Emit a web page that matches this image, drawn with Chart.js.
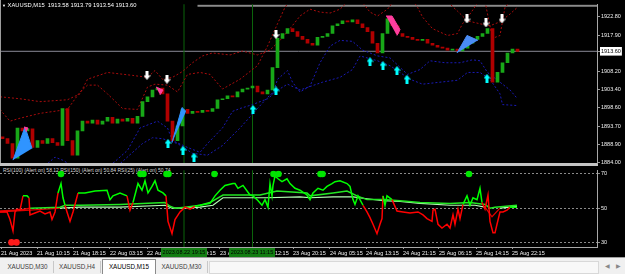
<!DOCTYPE html>
<html>
<head>
<meta charset="utf-8">
<title>XAUUSD,M15</title>
<script src="https://cdn.jsdelivr.net/npm/chart.js@4.4.1/dist/chart.umd.min.js"></script>
<style>
  html, body { margin: 0; padding: 0; width: 625px; height: 274px; overflow: hidden; background: #000; font-family: "Liberation Sans", Arial, sans-serif; }
  canvas { position: absolute; left: 0; }
  #priceChart { top: 0; z-index: 3; }
  #rsiChart { top: 166px; z-index: 2; }
  .lbl { position: absolute; white-space: nowrap; }
  #symbol { left: 2px; top: 2px; color: #fff; font-size: 5.8px; z-index: 4; }
  #rsiName { left: 3px; top: 167px; color: #d8d8d8; font-size: 5px; z-index: 1; }
  #sep { position: absolute; left: 0; top: 163px; width: 598px; height: 3px; background: #c4c4c4; z-index: 2; }
  #lborder { position: absolute; left: 0; top: 0; width: 1px; height: 163px; background: #9c9c9c; z-index: 4; }
  #tabs { position: absolute; left: 0; top: 257px; width: 625px; height: 17px; background: #f0f0f0; border-top: 1px solid #a0a0a0; box-sizing: border-box; }
  .tab { position: absolute; top: 3px; height: 12px; line-height: 12px; font-size: 6.3px; color: #404040; text-align: center; border-right: 1px solid #c8c8c8; }
  .tab.on { top: 1px; height: 15px; line-height: 14px; background: #fff; border: 1px solid #8a8a8a; border-bottom: none; color: #000; }
  #scroll { position: absolute; left: 209px; top: 3px; width: 390px; height: 13px; background: #f8f8f8; border: 1px solid #d8d8d8; box-sizing: border-box; }
  .arr { position: absolute; top: 4px; font-size: 6px; color: #888; }
</style>
</head>
<body>
<div id="lborder"></div>
<div id="symbol" class="lbl"><span style="font-size:4px">&#9660;</span> XAUUSD,M15&nbsp; 1913.58 1913.79 1913.54 1913.60</div>
<canvas id="priceChart" width="625" height="170"></canvas>
<div id="sep"></div>
<div id="rsiName" class="lbl">RSI(100) (Alert on) 58.12 RSI(150) (Alert on) 50.84 RSI(25) (Alert on) 50.74</div>
<canvas id="rsiChart" width="625" height="91"></canvas>
<div id="tabs">
  <div class="tab" style="left:2px;width:51px">XAUUSD,M30</div>
  <div class="tab" style="left:54px;width:46px">XAUUSD,H4</div>
  <div class="tab on" style="left:102px;width:52px">XAUUSD,M15</div>
  <div class="tab" style="left:156px;width:51px">XAUUSD,M30</div>
  <div id="scroll"></div>
  <span class="arr" style="left:605px">&#9664;</span>
  <span class="arr" style="left:616px">&#9654;</span>
</div>
<script>
// candle closes, one per bar (bar index 0..103)
var firstOpen = 1890.9;
var closes = [
  1890.38, 1889.09, 1885.21, 1893.23, 1892.45, 1892.97, 1888.06, 1889.87, 1889.09, 1890.38,
  1889.35, 1888.57, 1898.40, 1889.87, 1885.99, 1892.45, 1895.04, 1894.52, 1895.30, 1894.26,
  1895.04, 1896.08, 1894.52, 1895.56, 1895.04, 1895.82, 1894.52, 1896.33, 1900.22, 1901.51,
  1903.32, 1903.84, 1902.29, 1895.04, 1889.87, 1893.75, 1898.15, 1897.11, 1897.63, 1897.37,
  1897.89, 1897.63, 1898.40, 1900.73, 1900.99, 1901.77, 1901.51, 1902.80, 1903.57, 1903.84,
  1904.35, 1902.80, 1902.29, 1903.32, 1909.27, 1917.03, 1918.32, 1919.62, 1918.84, 1917.55,
  1916.77, 1915.73, 1915.22, 1917.29, 1917.55, 1918.32, 1920.39, 1920.91, 1921.69, 1921.43,
  1921.95, 1920.91, 1919.88, 1918.84, 1915.73, 1913.15, 1918.32, 1922.20, 1920.39, 1918.32,
  1917.55, 1917.29, 1916.77, 1916.51, 1916.77, 1915.73, 1915.22, 1914.70, 1914.44, 1913.93,
  1914.19, 1913.67, 1914.44, 1915.73, 1916.77, 1917.55, 1918.32, 1919.62, 1905.39, 1907.98,
  1910.56, 1913.15, 1914.19, 1913.60
];
var lastPrice = 1913.60;

// envelope bands (bar index / price)
var bandAIdx = [-0.5,3.5,7.5,13,15.5,17,21,26,29,30.5,32,34,36,38,40,42,45.5,48,51,53.5,55.5,57.5,59.5,61.5,63.5,65.5,67.5,69.5,71.5,73.5,75,77,78.5,81.5,83,84,86,89,91,92,93.5,95.5,96.5,98,99.5,100.5,102,103];
var bandA = [1901.51,1900.99,1900.22,1900.73,1902.29,1906.17,1907.98,1907.20,1906.68,1908.49,1906.17,1906.68,1908.23,1910.56,1912.37,1913.15,1912.63,1913.67,1912.63,1913.93,1916.51,1919.62,1922.98,1924.79,1924.02,1923.76,1924.79,1927.38,1927.38,1924.02,1922.98,1924.79,1927.38,1928.15,1925.31,1922.72,1919.62,1917.81,1918.32,1920.91,1923.50,1927.38,1926.86,1917.03,1917.81,1925.31,1927.38,1928.15];
var bandBIdx = [-0.5,1.5,3.5,7.5,13,15.5,17,19,21,24,27,29,30.5,33,35,37,39.5,41.5,44,47.5,51,53,55,56.5,58.5,73,87.5,91,93,95.5,97.5,99.5,101.5,103];
var bandB = [1898.15,1895.04,1895.82,1897.11,1898.15,1902.80,1904.61,1904.61,1902.29,1898.40,1898.15,1904.10,1904.87,1904.61,1902.80,1907.46,1907.98,1907.46,1903.58,1906.17,1909.79,1914.96,1920.91,1925.31,1928.67,1929.97,1928.67,1924.27,1921.69,1920.91,1920.39,1921.43,1923.50,1925.31];
var bandEIdx = [21.5,25,27.5,31,33,34,37,39.5,41,44,46,47.5,50,53,54,55,57,58,59.5,61.5,63.5,65.5,67.5,70,72,75,77.5,81,83.5,85.5,88.5,91.5,94,95.5,97,99.5,101.5,103];
var bandE = [1883.14,1887.28,1893.23,1895.04,1893.23,1889.87,1888.06,1886.76,1889.09,1893.23,1897.63,1898.40,1899.44,1900.99,1902.03,1906.17,1908.49,1905.39,1902.80,1904.35,1910.56,1914.96,1916.51,1916.25,1913.93,1912.37,1911.86,1907.46,1908.75,1911.08,1910.56,1910.56,1911.34,1911.08,1907.98,1905.39,1903.32,1900.99];
var bandFIdx = [8.5,10.5,12,14,18,23,28,30,32,35,38,41,44,47.5,51,53.5,57,59.5,64,67.5,70,71.5,75,77.5,81.5,84,87.5,91,93,95.5,97.5,99.5,100,103];
var bandF = [1883.14,1885.47,1884.69,1883.14,null,1883.14,1889.09,1890.64,1890.38,1889.09,1886.50,1885.99,1888.57,1893.23,1898.40,1902.03,1904.87,1903.32,1905.39,1906.68,1908.75,1912.37,1911.08,1909.79,1906.17,1904.87,1905.39,1905.91,1907.98,1907.98,1906.17,1902.29,1899.44,1899.18];

// signal arrows
var sellIdx = [28.9, 32.9, 54.7, 92.9, 96.7, 99.9];
var sellPrice = [1907.20, 1906.17, 1918.07, 1922.20, 1921.17, 1922.20];
var buyIdx = [33.1, 36.1, 38.3, 50.1, 54.7, 73.5, 76.1, 78.9, 80.9, 96.9];
var buyPrice = [1889.09, 1887.28, 1885.47, 1898.15, 1903.06, 1910.82, 1909.79, 1908.49, 1906.17, 1906.42];

// pattern triangles
var blueLeftIdx = [2.1, 4.5, 5.9];
var blueLeft = [1884.69, 1893.49, 1887.80];
var blueMidIdx = [33.9, 35.9, 36.7];
var blueMid = [1889.35, 1898.66, 1897.63];
var blueRightIdx = [90.9, 92.9, 95.1];
var blueRight = [1913.15, 1917.81, 1916.51];
var pinkAIdx = [30.7, 32.1, 31.5];
var pinkA = [1904.10, 1903.32, 1902.03];
var pinkBIdx = [76.7, 77.9, 79.5, 78.9];
var pinkB = [1922.98, 1922.98, 1919.36, 1917.81];
var pinkCIdx = [4.3, 5.1, 4.7];
var pinkC = [1893.49, 1893.23, 1892.20];

// price axis labels
var priceTicks = [1884.00, 1888.90, 1893.70, 1898.60, 1903.40, 1908.20, 1913.60, 1917.90, 1922.80];

// vertical lines
var vLineIdx = [36.3, 50.0];
var vLineTimes = ['2023.08.22 19:15', '2023.08.23 11:15'];

// time axis
var timeIdx = [-0.3, 6.9, 14.1, 21.5, 28.9, 36.1, 43.5, 50.7, 58.1, 65.5, 72.7, 80.1, 87.3, 94.7, 101.9];
var timeLabels = ['21 Aug 2023', '21 Aug 10:15', '21 Aug 18:15', '22 Aug 03:15', '22 Aug 11:15', '22 Aug 19:15', '23 Aug 04:15', '23 Aug 12:15', '23 Aug 20:15', '24 Aug 05:15', '24 Aug 13:15', '24 Aug 21:15', '25 Aug 06:15', '25 Aug 14:15', '25 Aug 22:15'];

// RSI lines
var fastIdx = [-0.5,0.9,1.5,2.1,2.5,2.9,3.5,4.1,4.9,5.3,5.5,6.5,7.5,8.5,9.5,9.9,10.5,11.1,11.7,12.1,12.5,12.9,13.5,14.1,15.1,16.5,18.5,20.9,21.5,22.1,23.5,24.9,25.5,26.1,27.1,27.9,28.5,29.1,29.9,30.5,31.1,32.1,32.7,33.1,33.9,34.5,35.5,36.5,37.5,38.5,39.5,41.5,42.5,43.5,44.5,46.1,46.5,47.1,48.1,49.5,50.1,50.9,51.9,52.5,53.1,53.5,53.9,54.1,54.5,55.1,55.9,56.9,57.5,58.5,59.5,60.9,61.5,62.1,63.1,64.1,64.9,65.9,66.5,67.5,68.9,69.5,70.1,70.5,71.1,72.1,72.9,73.5,74.1,74.9,75.5,75.9,76.1,76.5,76.9,77.9,78.9,80.1,81.5,83.1,84.1,84.9,85.9,86.1,86.5,87.1,87.9,88.9,89.5,90.1,90.5,91.1,91.5,92.1,92.9,93.5,94.1,94.9,95.5,95.9,96.5,97.1,97.5,98.1,98.5,98.9,99.5,100.1,100.9,101.5,102.9];
var fastRsi = [47.8,47.8,43.4,36.7,47.8,49.4,48.9,57.2,57.2,56.1,46.1,47.2,48.3,46.7,47.8,43.4,47.8,58.9,64.4,56.1,51.7,47.8,42.3,47.8,58.9,58.9,60.0,60.5,55.0,57.2,58.9,57.2,48.9,53.3,64.4,60.5,66.0,58.9,62.7,66.0,60.5,58.9,57.2,42.3,35.1,43.4,47.8,50.6,49.4,51.1,51.7,52.8,57.2,60.5,63.3,64.4,64.4,61.6,63.3,57.7,57.2,55.0,51.7,55.0,50.6,64.4,57.2,63.3,68.8,67.2,65.5,67.2,64.4,61.6,60.5,57.7,55.0,58.9,61.6,60.5,62.7,64.4,65.5,66.0,64.4,62.7,55.0,52.2,57.2,51.7,47.8,44.5,40.6,35.1,40.6,43.9,57.2,51.7,57.2,55.0,48.3,47.8,47.2,47.8,46.1,43.9,42.3,48.9,49.4,40.6,38.4,40.6,38.4,46.1,40.6,49.4,43.9,52.2,57.2,51.7,56.1,55.0,61.6,53.3,49.4,57.7,42.3,35.6,35.6,40.6,47.8,47.8,48.9,50.6,50.6];
var slowAIdx = [-0.5,3.5,5.5,11.5,12.5,15.5,23.5,32.5,33.5,34.5,36.5,39.5,41.5,44.1,51.5,54.9,60.9,61.5,66.1,68.9,70.9,72.9,76.1,79.5,83.5,89.5,93.5,96.5,97.5,98.5,102.9];
var slowA = [48.3,48.9,50.0,50.6,51.7,51.7,52.2,53.3,51.1,50.0,50.6,51.7,53.3,57.7,57.7,60.0,58.9,57.2,58.9,60.0,57.2,55.0,55.0,54.4,53.3,52.8,53.3,52.2,50.0,50.6,51.7];
var slowBIdx = [-0.5,5.5,11.5,15.5,23.5,32.5,33.9,36.5,39.5,42.1,44.1,52.9,59.5,61.5,66.1,70.1,72.9,76.1,79.5,83.5,89.5,94.5,96.5,97.9,99.5,102.9];
var slowB = [47.8,48.9,50.0,50.6,50.6,51.7,50.0,50.0,50.6,51.7,56.1,56.1,56.6,56.1,56.6,56.6,55.5,54.4,53.9,52.8,51.7,51.7,50.6,45.0,50.0,51.1];
var rsiLevels = [30, 50, 70];
var upDotIdx = [11.7, 27.6, 28.2, 32.8, 33.2, 42.4, 54.2, 55.2, 63.6, 64.0, 93.3];
var downDotIdx = [1.8, 2.8];

var bullColor = '#18a818';
var bearColor = '#b00000';
var tickFont = { family: '"Liberation Sans", Arial, sans-serif', size: 5.5 };

function pts(xs, ys) {
  return xs.map(function (x, i) { return { x: x, y: ys[i] }; });
}

function arrowImage(color, up) {
  var c = document.createElement('canvas');
  c.width = 7; c.height = 9;
  var g = c.getContext('2d');
  g.fillStyle = color;
  g.beginPath();
  if (up) {
    g.moveTo(3.5, 0); g.lineTo(7, 4.5); g.lineTo(5, 4.5); g.lineTo(5, 9);
    g.lineTo(2, 9); g.lineTo(2, 4.5); g.lineTo(0, 4.5);
  } else {
    g.moveTo(2, 0); g.lineTo(5, 0); g.lineTo(5, 4.5); g.lineTo(7, 4.5);
    g.lineTo(3.5, 9); g.lineTo(0, 4.5); g.lineTo(2, 4.5);
  }
  g.closePath();
  g.fill();
  return c;
}

function band(xs, ys, color) {
  return { type: 'line', data: pts(xs, ys), borderColor: color, borderWidth: 1, borderDash: [2, 2], pointRadius: 0, fill: false, spanGaps: false };
}

function shape(xs, ys, color) {
  return { type: 'line', data: pts(xs, ys), borderColor: color, backgroundColor: color, borderWidth: 1, pointRadius: 0, fill: 'shape' };
}

function vLine(v, lo, hi) {
  return { type: 'line', data: [{ x: v, y: lo }, { x: v, y: hi }], borderColor: '#0b640b', borderWidth: 1, pointRadius: 0 };
}

var candleData = closes.map(function (c, i) {
  return { x: i, y: [i === 0 ? firstOpen : closes[i - 1], c] };
});
var candleColors = candleData.map(function (d) { return d.y[1] >= d.y[0] ? bullColor : bearColor; });

var priceMin = 1883.92, priceMax = 1926.09;

//PRICE CHART
var priceChart = new Chart(document.getElementById('priceChart'), {
  type: 'bar',
  data: {
    datasets: [
      { type: 'line', data: pts(sellIdx, sellPrice), showLine: false, pointStyle: arrowImage('#ffffff', false), pointRadius: 5 },
      { type: 'line', data: pts(buyIdx, buyPrice), showLine: false, pointStyle: arrowImage('#00ffff', true), pointRadius: 5 },
      shape(pinkCIdx, pinkC, '#ff3d9e'),
      shape(pinkAIdx, pinkA, '#ff3d9e'),
      shape(pinkBIdx, pinkB, '#ff3d9e'),
      shape(blueLeftIdx, blueLeft, '#2f94ff'),
      shape(blueMidIdx, blueMid, '#2f94ff'),
      shape(blueRightIdx, blueRight, '#4a8cf5'),
      { type: 'bar', data: candleData, backgroundColor: candleColors, barThickness: 3, minBarLength: 1, borderWidth: 0, grouped: false },
      band(bandAIdx, bandA, '#a80c0c'),
      band(bandBIdx, bandB, '#a80c0c'),
      band(bandEIdx, bandE, '#1a1ab4'),
      band(bandFIdx, bandF, '#1a1ab4'),
      vLine(vLineIdx[0], 1880, 1930),
      vLine(vLineIdx[1], 1880, 1930),
      { type: 'line', data: [{ x: -0.5, y: lastPrice }, { x: 118.9, y: lastPrice }], borderColor: '#8a8a96', borderWidth: 1, pointRadius: 0 },
      { type: 'line', data: [{ x: 39, y: 1925.7 }, { x: 118.9, y: 1925.7 }], borderColor: '#8c8c8c', borderWidth: 2, pointRadius: 0 }
    ]
  },
  options: {
    responsive: false,
    animation: false,
    devicePixelRatio: 1,
    layout: { padding: { left: 0, right: 0, top: 0, bottom: 7 }, autoPadding: false },
    plugins: { legend: { display: false }, tooltip: { enabled: false } },
    scales: {
      x: { type: 'linear', display: false, min: -0.5, max: 118.9, offset: false },
      y: {
        type: 'linear', position: 'right', min: priceMin, max: priceMax,
        afterFit: function (s) { s.width = 28; },
        afterBuildTicks: function (s) { s.ticks = priceTicks.map(function (v) { return { value: v }; }); },
        ticks: {
          autoSkip: false,
          font: tickFont,
          padding: 1,
          color: function (ctx) { return ctx.tick && ctx.tick.value === lastPrice ? '#000' : '#f0f0f0'; },
          showLabelBackdrop: function (ctx) { return !!(ctx.tick && ctx.tick.value === lastPrice); },
          backdropColor: '#ffffff',
          backdropPadding: { left: 1, right: 1, top: 1, bottom: 1 },
          callback: function (v) { return Number(v).toFixed(2); }
        },
        grid: { drawOnChartArea: false, color: '#9a9a9a', tickLength: 3 },
        border: { color: '#a8a8a8' }
      }
    }
  }
});

//TIME TAGS FOR VERTICAL LINES
var timeTags = {
  id: 'timeTags',
  afterDraw: function (chart) {
    var ctx = chart.ctx, x = chart.scales.x, area = chart.chartArea;
    ctx.save();
    ctx.font = '5.5px "Liberation Sans", Arial, sans-serif';
    ctx.textAlign = 'center';
    ctx.textBaseline = 'middle';
    vLineIdx.forEach(function (v, i) {
      var px = Math.round(x.getPixelForValue(v));
      ctx.fillStyle = '#127d12';
      ctx.fillRect(px - 23, area.bottom + 1, 46, 9);
      ctx.fillStyle = '#000';
      ctx.fillText(vLineTimes[i], px, area.bottom + 5.5);
    });
    ctx.restore();
  }
};

function rsiSegment(up, down) {
  return { borderColor: function (c) { return (c.p0.parsed.y >= 50 && c.p1.parsed.y >= 50) ? up : down; } };
}

//RSI CHART
var rsiChart = new Chart(document.getElementById('rsiChart'), {
  type: 'line',
  data: {
    datasets: [
      { data: upDotIdx.map(function (v) { return { x: v, y: 70 }; }), showLine: false, pointRadius: 3.3, pointBackgroundColor: '#00e600', pointBorderWidth: 0 },
      { data: downDotIdx.map(function (v) { return { x: v, y: 30 }; }), showLine: false, pointRadius: 3.3, pointBackgroundColor: '#ff1a1a', pointBorderWidth: 0 },
      { data: pts(fastIdx, fastRsi), borderColor: '#00ff00', borderWidth: 1.5, pointRadius: 0, segment: rsiSegment('#00ff00', '#ff0000') },
      { data: pts(slowAIdx, slowA), borderColor: '#22e622', borderWidth: 1.5, pointRadius: 0, segment: rsiSegment('#22e622', '#e00000') },
      { data: pts(slowBIdx, slowB), borderColor: '#b4ffb4', borderWidth: 1.2, pointRadius: 0, segment: rsiSegment('#b4ffb4', '#e00000') },
      vLine(vLineIdx[0], 20, 80),
      vLine(vLineIdx[1], 20, 80)
    ]
  },
  options: {
    responsive: false,
    animation: false,
    devicePixelRatio: 1,
    layout: { padding: 0, autoPadding: false },
    plugins: { legend: { display: false }, tooltip: { enabled: false } },
    scales: {
      x: {
        type: 'linear', min: -0.5, max: 118.9, offset: false,
        afterFit: function (s) { s.height = 10; },
        afterBuildTicks: function (s) { s.ticks = timeIdx.map(function (v) { return { value: v }; }); },
        ticks: {
          align: 'start', autoSkip: false, maxRotation: 0, color: '#f0f0f0', font: tickFont, padding: 1,
          callback: function (v, i) { return timeLabels[i]; }
        },
        grid: { drawOnChartArea: false, offset: false, color: '#9a9a9a', tickLength: 2 },
        border: { color: '#a8a8a8' }
      },
      y: {
        type: 'linear', position: 'right', min: 27.32, max: 72.13,
        afterFit: function (s) { s.width = 28; },
        afterBuildTicks: function (s) { s.ticks = rsiLevels.map(function (v) { return { value: v }; }); },
        ticks: { autoSkip: false, color: '#f0f0f0', font: tickFont, padding: 1, callback: function (v) { return String(v); } },
        grid: { color: '#8a8a8a', tickLength: 3 },
        border: { color: '#a8a8a8', dash: [2, 2] }
      }
    }
  },
  plugins: [timeTags]
});
</script>
</body>
</html>
